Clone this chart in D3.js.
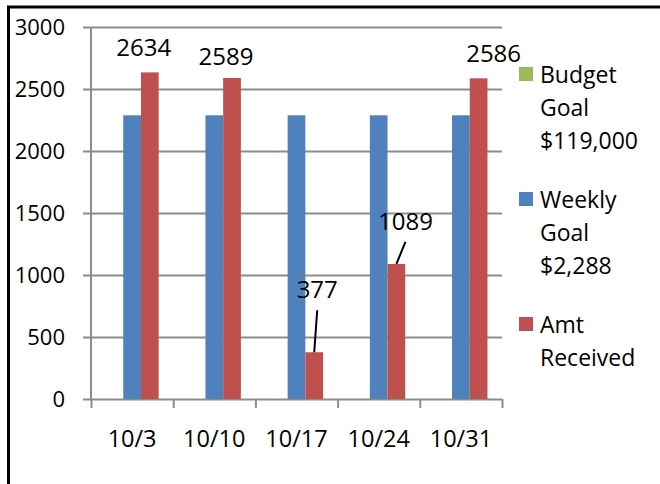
<!DOCTYPE html>
<html>
<head>
<meta charset="utf-8">
<script src="https://cdn.jsdelivr.net/npm/d3@7"></script>
<style>
  body { margin: 0; background: #fff; }
  svg { display: block; font-family: "Open Sans", sans-serif; }
</style>
</head>
<body>
<div id="svg-container"></div>
<script>
// chart values
const weeks = ['10/3', '10/10', '10/17', '10/24', '10/31']
const budgetGoal = [0, 0, 0, 0, 0]
const weeklyGoal = [2288, 2288, 2288, 2288, 2288]
const amtReceived = [2634, 2589, 377, 1089, 2586]
const seriesNames = ['Budget Goal $119,000', 'Weekly Goal $2,288', 'Amt Received']
const yTicks = [0, 500, 1000, 1500, 2000, 2500, 3000]

// labels were dragged around in the original, so nudge them (px)
const labelNudge = [[-6, -16], [-6, -13], [3, -54], [9, -34], [15, -16]]

const width = 660, height = 484
const margin = { top: 27, left: 91 }
const w = 411, h = 372
const colors = ['#9BBB59', '#4F81BD', '#C0504D']

let svg = d3.select('#svg-container')
    .append('svg')
    .attr('width', width)
    .attr('height', height)

// outer frame
svg.append('rect')
    .attr('x', 8.5)
    .attr('y', 7)
    .attr('width', 700)
    .attr('height', 520)
    .attr('fill', 'none')
    .attr('stroke', '#000')
    .attr('stroke-width', 3)

let g = svg.append('g')
    .attr('transform', `translate(${margin.left}, ${margin.top})`)

let y = d3.scaleLinear().domain([0, 3000]).range([h, 0])
let x0 = d3.scaleBand().domain(weeks).range([0, w])
let x1 = d3.scaleBand().domain(seriesNames).range([0, x0.bandwidth()]).paddingOuter(0.82)

// y axis + gridlines
let yAxis = g.append('g')
    .call(d3.axisLeft(y).tickValues(yTicks).tickFormat(d3.format('d')).tickSize(-w).tickPadding(26))
yAxis.select('.domain').remove()
yAxis.selectAll('line')
    .attr('x1', -8)
    .attr('stroke', '#8c8c8c')
    .attr('stroke-width', 2)
yAxis.selectAll('text')
    .attr('font-size', 22)
    .attr('fill', '#000')
    .attr('font-family', '"Open Sans", sans-serif')

g.append('line')
    .attr('x1', 0).attr('x2', 0)
    .attr('y1', 0).attr('y2', h)
    .attr('stroke', '#8c8c8c')
    .attr('stroke-width', 2)

// x axis: ticks on category edges, labels in the middle
let xEdges = d3.scaleLinear().domain([0, weeks.length]).range([0, w])
let xTickAxis = g.append('g')
    .attr('transform', `translate(0, ${h})`)
    .call(d3.axisBottom(xEdges).ticks(weeks.length).tickSize(9).tickFormat(''))
xTickAxis.select('.domain').remove()
xTickAxis.selectAll('line')
    .attr('stroke', '#8c8c8c')
    .attr('stroke-width', 2)

let xLabelAxis = g.append('g')
    .attr('transform', `translate(0, ${h})`)
    .call(d3.axisBottom(x0).tickSize(0).tickPadding(31))
xLabelAxis.select('.domain').remove()
xLabelAxis.selectAll('text')
    .attr('font-size', 23.5)
    .attr('fill', '#000')
    .attr('font-family', '"Open Sans", sans-serif')

// bars
let rows = weeks.map((wk, i) => ({
    week: wk,
    values: [budgetGoal[i], weeklyGoal[i], amtReceived[i]]
}))

let groups = g.selectAll('.week')
    .data(rows)
    .enter().append('g')
    .attr('class', 'week')
    .attr('transform', d => `translate(${x0(d.week)}, 0)`)

groups.selectAll('rect')
    .data(d => d.values.map((v, j) => ({ key: seriesNames[j], value: v, j: j })))
    .enter().append('rect')
    .filter(d => d.value > 0)
    .attr('x', d => x1(d.key))
    .attr('y', d => y(d.value))
    .attr('width', x1.bandwidth())
    .attr('height', d => h - y(d.value))
    .attr('fill', d => colors[d.j])

// data labels on Amt Received
let redKey = seriesNames[2]
amtReceived.forEach((v, i) => {
    let bx = x0(weeks[i]) + x1(redKey) + x1.bandwidth() / 2
    let by = y(v)
    let lx = bx + labelNudge[i][0]
    let ly = by + labelNudge[i][1]
    if (labelNudge[i][1] < -25) {
        g.append('line')
            .attr('x1', lx).attr('y1', ly + 12)
            .attr('x2', bx).attr('y2', by)
            .attr('stroke', '#000')
            .attr('stroke-width', 2)
    }
    g.append('text')
        .attr('x', lx)
        .attr('y', ly)
        .attr('text-anchor', 'middle')
        .attr('font-size', 24)
        .attr('fill', '#000')
        .text(v)
})

// legend, one word per line
let legend = svg.selectAll('.legend')
    .data(seriesNames)
    .enter().append('g')
    .attr('class', 'legend')
    .attr('transform', (d, i) => `translate(519, ${67 + i * 125})`)
legend.append('rect')
    .attr('width', 14)
    .attr('height', 14)
    .attr('fill', (d, i) => colors[i])
legend.each(function(d) {
    d.split(' ').forEach((word, k) => {
        d3.select(this).append('text')
            .attr('x', 21)
            .attr('y', 16 + k * 33)
            .attr('font-size', 23)
            .attr('fill', '#000')
            .text(word)
    })
})
</script>
</body>
</html>
